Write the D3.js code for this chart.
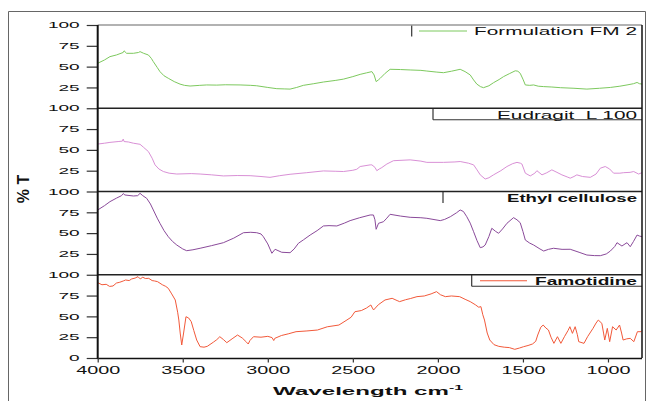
<!DOCTYPE html>
<html><head><meta charset="utf-8">
<script src="https://cdn.jsdelivr.net/npm/d3@7"></script>
<style>body{margin:0;background:#fff}svg{display:block;font-family:"Liberation Sans",Arial,sans-serif}</style>
</head><body><svg id="c" width="649" height="401"></svg>
<script>
// ---- data ----
const xTickValues = [4000, 3500, 3000, 2500, 2000, 1500, 1000];
const yTickValues = [100, 75, 50, 25];
const yTickValuesBottom = [100, 75, 50, 25, 0];
const seriesNames = ["Formulation FM 2", "Eudragit  L 100", "Ethyl cellulose", "Famotidine"];

const fm2Wn = [4000,3960,3928,3890,3850,3845,3830,3790,3760,3751,3730,3702,3685,3673,3650,3634,3610,3585,3550,3516,3490,3457,3400,3359,3300,3250,3163,3100,3065,3000,2947,2900,2869,2830,2791,2730,2673,2600,2555,2500,2457,2420,2388,2375,2363,2350,2339,2310,2281,2220,2163,2100,2065,2010,1967,1920,1869,1840,1810,1790,1771,1750,1732,1700,1673,1640,1614,1580,1545,1530,1516,1500,1486,1460,1437,1410,1378,1330,1280,1200,1124,1050,986,930,888,850,829,815,800];
const fm2T  = [54,58,62,64,67,69,66,66,67,68,66,64,60,56,49,44,39,36,32,29,27.5,26.7,27.5,28,27.8,28.2,28,27.5,27,25,23.5,23.2,23,25,27.5,29.5,31.5,33.5,35,38,40.7,42.5,44,40,32,34,36,42,46.8,46.5,46,45.5,44.7,43.5,42.7,44.5,46.8,44,40,34,29,26,24.7,27,30.7,34.5,38,41.5,45,44.5,42,35,28,27.5,28,26.5,26,25.5,24.7,24,23,24,25,26.5,28,29.5,31,29.5,29];

const eudWn = [4000,3960,3928,3880,3855,3850,3845,3820,3790,3751,3730,3702,3680,3663,3640,3614,3580,3535,3450,3398,3330,3261,3180,3104,3040,2987,2930,2869,2771,2673,2600,2555,2500,2477,2457,2398,2388,2370,2359,2345,2330,2300,2261,2163,2100,2065,1967,1900,1869,1820,1790,1770,1751,1722,1700,1673,1630,1594,1560,1535,1515,1506,1495,1486,1457,1430,1418,1400,1388,1360,1330,1300,1271,1240,1222,1200,1183,1150,1104,1070,1045,1016,990,967,930,908,870,849,820,800];
const eudT  = [57,58,59,60,60.5,63,60,59.5,58,56.7,53,48,40,32,27,24,22,21,21.5,21,20,18.7,19.2,19,18,17,19,20.7,22.6,24.7,24.3,24,25.5,26.7,30,32,32,29,25,27,28.7,33,37,38,36.5,35,35,35.5,36,34,32,26,20,15,16.5,20,25,30,33.5,35,34,33,27,22,18.7,22,25,22,20,22.5,26,23,20,17.5,16,18,20,18,17,21,28,30,27,22,22,22.6,23,24,21,22.6];

const ethWn = [4000,3960,3928,3890,3860,3850,3840,3790,3765,3751,3735,3712,3690,3673,3650,3634,3610,3585,3560,3535,3500,3477,3440,3398,3330,3261,3200,3143,3100,3065,3040,3026,3000,2976,2957,2940,2918,2869,2845,2820,2790,2751,2710,2673,2640,2594,2550,2516,2460,2398,2379,2370,2363,2349,2320,2300,2281,2220,2163,2100,2065,1986,1960,1927,1890,1869,1850,1830,1810,1790,1770,1751,1735,1722,1700,1683,1660,1643,1620,1594,1570,1555,1535,1516,1500,1486,1460,1437,1400,1378,1350,1320,1270,1222,1170,1124,1080,1045,1010,986,960,947,918,900,888,869,850,829,815,800];
const ethT  = [77.8,83,87.8,92,95,97.5,95.8,94.6,95,97.8,95,91.8,85,77.8,68,61.8,53,45.7,40,35.7,31,28.9,30,31.8,35,38.5,44,50.5,51,50.5,49,45.7,37,25.8,30.6,29,27,26.5,31,37.8,42,47.7,53,58.6,59,58.6,62,65,68.5,71.8,71.8,66,54.6,61.8,63.7,68,72.6,70.5,69,68.5,67.8,65,66.5,69.7,74.5,77.8,76,69.7,62,51.7,41,32.5,33.5,35.7,46,55.8,52,49.8,55,61.8,66,68.6,66,62.5,52,41.7,38,35.7,31,28.5,30.5,31.8,30.5,30.6,27,23.7,23,22.9,25,28.5,34,38.5,34.5,37,38.5,33.7,40,47.7,46.5,45.7];

const famWn = [4000,3975,3950,3930,3910,3890,3870,3850,3836,3815,3800,3780,3763,3750,3735,3720,3700,3680,3665,3648,3620,3600,3585,3565,3544,3530,3523,3515,3506,3495,3481,3465,3450,3435,3418,3398,3375,3356,3320,3300,3282,3260,3241,3210,3178,3150,3125,3115,3105,3084,3040,3000,2975,2965,2959,2920,2880,2834,2770,2708,2650,2582,2540,2510,2488,2450,2420,2394,2385,2378,2350,2311,2269,2240,2225,2190,2160,2123,2080,2040,2008,1985,1956,1920,1872,1840,1810,1780,1760,1747,1736,1726,1710,1695,1670,1642,1610,1580,1548,1520,1496,1470,1444,1425,1413,1395,1381,1365,1350,1335,1318,1297,1277,1256,1235,1224,1209,1193,1180,1172,1141,1120,1088,1070,1057,1036,1026,1019,1004,990,973,952,932,920,911,890,869,848,827,806,800];
const famT  = [90.5,88,88.5,86,86.5,90,91,92.5,93.7,93,95,96,97.7,95,97,95.5,95.7,93,92.5,91.7,88,86,83.7,77,69.7,55,45.6,30,15.6,30,49.6,48,43.6,33,21.6,13.6,13,14,19,22,25.6,22,18.4,23,27.6,24,19,16.8,21,25.6,25,26,24.5,21,23.6,27,29,31.6,32.5,33.6,37.5,39.6,45,49,55.6,57,60,63.7,60,57.7,64,69.7,71.7,69,67.7,70,71.5,73.7,74.5,77,79.7,76,73.7,74.5,73.7,70.5,67.7,64,61,61.7,52,45.6,30,21.6,16,14,13,12.5,10.4,12,13.6,15,16.8,20,27.6,37,39.6,36,33.6,25,17.6,25.6,17.6,25.6,33,37.6,29.6,37.6,28,19.6,17.6,25.6,35.6,42,45.6,41.6,30,21.6,35.6,19.6,37.6,33.6,39.6,30,21.6,23,23.6,19.6,31.6,31.6,33];

// ---- layout / style ----
const svg = d3.select("#c");
const L = 97.7, R = 642, T0 = 25, B = 358;
const PH = (B - T0) / 4;
const x = d3.scaleLinear().domain([4000, 800]).range([L, R]);
const colors = ["#7dc95e", "#d990d6", "#8a4a9a", "#f2593a"];
const series = [
  {wn: fm2Wn, t: fm2T}, {wn: eudWn, t: eudT}, {wn: ethWn, t: ethT}, {wn: famWn, t: famT}
];
const legendLayout = [
  {boxLeft: 411.7, sample: [419, 467], bottomLine: false, bold: false, len: 163},
  {boxLeft: 433, sample: null, bottomLine: true, bold: false, len: 140},
  {boxLeft: 443, sample: null, bottomLine: false, bold: true, len: 130},
  {boxLeft: 471.7, sample: [480, 527], bottomLine: true, bold: true, len: 102}
];

// outer frame
svg.append("path").attr("d", `M8.5,401 V11.5 H645.5 V401`).attr("fill", "none").attr("stroke", "#666").attr("stroke-width", 1);

series.forEach((s, i) => {
  const top = T0 + i * PH;
  const y = d3.scaleLinear().domain([0, 100]).range([top + PH, top]);
  const pts = s.wn.map((w, k) => [w, s.t[k]]);
  svg.append("path").datum(pts)
    .attr("d", d3.line().x(d => x(d[0])).y(d => y(d[1])))
    .attr("fill", "none").attr("stroke", colors[i]).attr("stroke-width", 1);

  const ax = svg.append("g").attr("transform", `translate(${L},0)`)
    .call(d3.axisLeft(y).tickValues(i === 3 ? yTickValuesBottom : yTickValues).tickSize(11).tickPadding(7));
  ax.select(".domain").remove();
  ax.selectAll("line").attr("stroke", "#333").attr("stroke-width", 1.2);
  ax.selectAll("text").attr("font-size", 8.5).attr("fill", "#111")
    .attr("textLength", d => String(d).length * 10.6).attr("lengthAdjust", "spacingAndGlyphs");

  // legend
  const lg = legendLayout[i];
  const g = svg.append("g");
  g.append("line").attr("x1", lg.boxLeft).attr("x2", lg.boxLeft).attr("y1", top).attr("y2", top + 11.5)
    .attr("stroke", "#333").attr("stroke-width", 1.2);
  if (lg.bottomLine) g.append("line").attr("x1", lg.boxLeft).attr("x2", R).attr("y1", top + 11.5).attr("y2", top + 11.5)
    .attr("stroke", "#333").attr("stroke-width", 1.2);
  if (lg.sample) g.append("line").attr("x1", lg.sample[0]).attr("x2", lg.sample[1]).attr("y1", top + 6).attr("y2", top + 6)
    .attr("stroke", colors[i]).attr("stroke-width", 1);
  g.append("text").attr("x", 637).attr("y", top + 10.3).attr("text-anchor", "end")
    .style("white-space", "pre")
    .attr("font-size", 10).attr("font-weight", lg.bold ? "bold" : "normal").attr("fill", "#111")
    .attr("textLength", lg.len).attr("lengthAdjust", "spacingAndGlyphs").text(seriesNames[i]);
});

// frame lines
svg.append("line").attr("x1", L).attr("x2", R).attr("y1", T0).attr("y2", T0).attr("stroke", "#999").attr("stroke-width", 1.5);
[1, 2, 3].forEach(k => svg.append("line").attr("x1", L).attr("x2", R).attr("y1", T0 + k * PH).attr("y2", T0 + k * PH)
  .attr("stroke", "#222").attr("stroke-width", 1.5));
svg.append("line").attr("x1", R).attr("x2", R).attr("y1", T0).attr("y2", B).attr("stroke", "#111").attr("stroke-width", 1.5);
svg.append("line").attr("x1", L).attr("x2", L).attr("y1", T0).attr("y2", B + 1).attr("stroke", "#111").attr("stroke-width", 2);

// x axis
const xa = svg.append("g").attr("transform", `translate(0,${B})`)
  .call(d3.axisBottom(x).tickValues(xTickValues).tickSize(4.5).tickPadding(4).tickFormat(d3.format("d")));
xa.select(".domain").attr("stroke", "#111").attr("stroke-width", 1.5).attr("d", `M${L},0.5H${R}`);
xa.selectAll("line").attr("stroke", "#333").attr("stroke-width", 1.2);
xa.selectAll("text").attr("font-size", 10).attr("fill", "#111")
  .attr("textLength", d => String(d).length * 11).attr("lengthAdjust", "spacingAndGlyphs");

// x title
const xt = svg.append("g").attr("transform", "translate(368,395)");
const xtt = xt.append("text").attr("text-anchor", "middle").attr("font-size", 11.5).attr("font-weight", "bold").attr("fill", "#111");
xtt.append("tspan").text("Wavelength cm");
xtt.append("tspan").attr("dy", -5).attr("font-size", 7.5).text("-1");
const bw = xtt.node().getBBox().width;
xt.attr("transform", `translate(368,395) scale(${190 / bw},1)`);

// y title
svg.append("g").attr("transform", "translate(29,189) rotate(-90)")
  .append("text").attr("text-anchor", "middle").attr("font-size", 16).attr("font-weight", "bold").attr("fill", "#111").text("% T");
</script></body></html>
